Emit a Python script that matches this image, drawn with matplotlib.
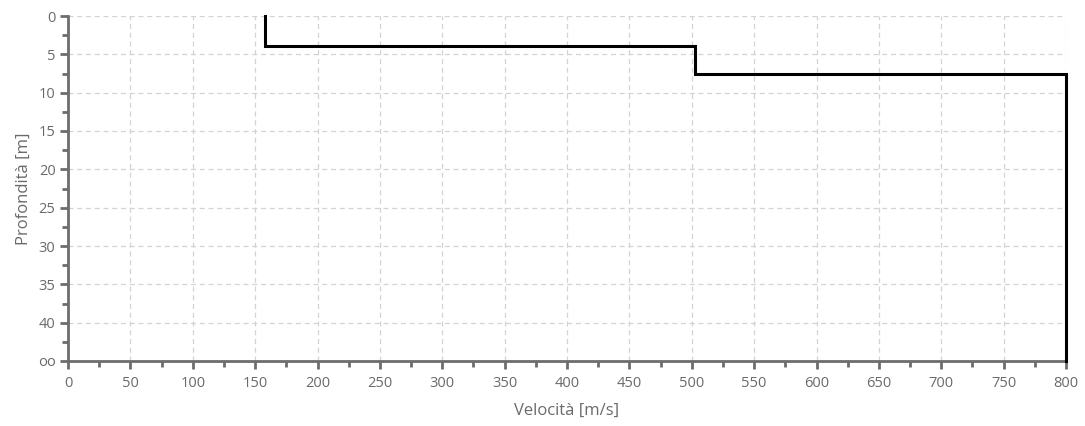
import matplotlib
matplotlib.use("Agg")
import matplotlib.pyplot as plt
from matplotlib.ticker import MultipleLocator, FixedLocator

# Layer data
velocities = [158, 503, 800]          # m/s
layer_tops = [0.0, 3.9, 7.6]          # m
layer_bottoms = [3.9, 7.6, 45.0]      # m (last = half-space "oo")
x_ticks = list(range(0, 801, 50))
y_ticks = [0, 5, 10, 15, 20, 25, 30, 35, 40, 45]
y_tick_labels = ["0", "5", "10", "15", "20", "25", "30", "35", "40", "oo"]

txt = "#6a6a6a"
spine = "#6d6d6d"
plt.rcParams['font.family'] = ['Open Sans', 'DejaVu Sans']

fig = plt.figure(figsize=(10.85, 4.26), dpi=100)
ax = fig.add_axes([68/1085, 1 - 361/426, (1066-68)/1085, (361-16)/426])

xs, ys = [], []
for v, t, b in zip(velocities, layer_tops, layer_bottoms):
    xs += [v, v]
    ys += [t, b]
ax.plot(xs, ys, color="black", lw=2.2, solid_joinstyle="miter", zorder=3, clip_on=False)

ax.set_xlim(0, 800)
ax.set_ylim(45, 0)
ax.xaxis.set_major_locator(FixedLocator(x_ticks))
ax.xaxis.set_minor_locator(MultipleLocator(25))
ax.yaxis.set_major_locator(FixedLocator(y_ticks))
ax.set_yticklabels(y_tick_labels)
ax.yaxis.set_minor_locator(MultipleLocator(2.5))

ax.grid(True, which="major", color="#d3d3d3", linestyle=(0, (4, 3)), lw=0.9)
for s in ["top", "right"]:
    ax.spines[s].set_visible(False)
for s in ["left", "bottom"]:
    ax.spines[s].set_color(spine)
    ax.spines[s].set_linewidth(2)
ax.tick_params(which="major", length=6, width=2, color=spine, labelcolor=txt, labelsize=10.5)
ax.tick_params(which="minor", length=4, width=2, color=spine)
ax.tick_params(axis="x", pad=5)
ax.tick_params(axis="y", pad=3)

ax.set_xlabel("Velocità [m/s]", color=txt, fontsize=12, labelpad=8)
ax.set_ylabel("Profondità [m]", color=txt, fontsize=12, labelpad=4)

fig.savefig("out.png", dpi=100, facecolor="white")
